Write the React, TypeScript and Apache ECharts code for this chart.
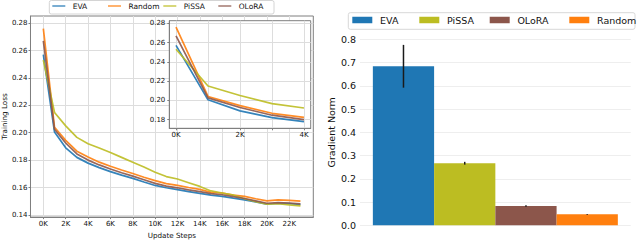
import React, { useEffect, useRef } from "react";
import * as echarts from "echarts";

// ---------- data ----------
const steps = [
  0, 1000, 2000, 3000, 4000, 5000, 6000, 7000, 8000, 9000, 10000, 11000,
  12000, 13000, 14000, 15000, 16000, 17000, 18000, 19000, 20000, 21000, 22000, 23000,
];
const evaLoss = [
  0.257, 0.2005, 0.189, 0.182, 0.1778, 0.1745, 0.1716, 0.169, 0.1667, 0.164, 0.1615, 0.1598,
  0.1585, 0.157, 0.1557, 0.1545, 0.1535, 0.1522, 0.151, 0.1495, 0.1478, 0.1485, 0.1482, 0.1476,
];
const randomLoss = [
  0.276, 0.204, 0.1944, 0.1865, 0.1823, 0.1785, 0.1755, 0.1728, 0.1702, 0.1675, 0.165, 0.1628,
  0.1615, 0.16, 0.1586, 0.1565, 0.156, 0.1545, 0.1535, 0.1518, 0.1502, 0.151, 0.1506, 0.15,
];
const pissaLoss = [
  0.253, 0.2148, 0.205, 0.1966, 0.192, 0.1888, 0.1855, 0.182, 0.1785, 0.175, 0.1712, 0.168,
  0.1662, 0.1635, 0.1608, 0.1575, 0.156, 0.1545, 0.1518, 0.1497, 0.1478, 0.1483, 0.1473, 0.1466,
];
const oloraLoss = [
  0.267, 0.2025, 0.1925, 0.1845, 0.18, 0.1765, 0.1735, 0.1708, 0.1683, 0.1657, 0.163, 0.161,
  0.1598, 0.1583, 0.157, 0.1555, 0.1547, 0.1533, 0.152, 0.1503, 0.1485, 0.149, 0.1487, 0.148,
];
const insetCount = 5; // inset shows 0K..4K

const mainXTicks = [0, 2000, 4000, 6000, 8000, 10000, 12000, 14000, 16000, 18000, 20000, 22000];
const mainYTicks = [0.14, 0.16, 0.18, 0.2, 0.22, 0.24, 0.26, 0.28];
const insetXTicks = [0, 1000, 2000, 3000, 4000];
const insetXLabelTicks = [0, 2000, 4000];
const insetYTicks = [0.18, 0.2, 0.22, 0.24, 0.26, 0.28];

const barMethods = ["EVA", "PiSSA", "OLoRA", "Random"];
const gradNorm = [0.684, 0.267, 0.083, 0.047];
const gradErr = [0.092, 0.006, 0.003, 0.002];

const colors: Record<string, string> = {
  EVA: "#1f77b4",
  Random: "#ff7f0e",
  PiSSA: "#bcbd22",
  OLoRA: "#8c564b",
};

const lineSeries = [
  { name: "EVA", values: evaLoss },
  { name: "Random", values: randomLoss },
  { name: "PiSSA", values: pissaLoss },
  { name: "OLoRA", values: oloraLoss },
];

const FONT = "DejaVu Sans";
const TXT = "#111111";
const FRAME = "#7f7f7f";
const GRIDC = "#dddddd";

export default function App() {
  const ref = useRef<HTMLDivElement>(null);

  useEffect(() => {
    document.body.style.margin = "0";
    if (!ref.current) return;
    const chart = echarts.init(ref.current, undefined, { renderer: "svg" });

    const BAR_GAP = 0.095;

    const mainLegendPos = [52.3, 108, 163.3, 218.3];
    const barLegendPos = [352.3, 419.3, 489.7, 569.3];

    const legends: any[] = [];
    lineSeries.forEach((s, i) => {
      legends.push({
        left: mainLegendPos[i],
        top: 2,
        padding: 0,
        icon: "rect",
        itemWidth: 13,
        itemHeight: 2,
        itemStyle: { opacity: 0.6 },
        selectedMode: false,
        data: [s.name],
        textStyle: { fontFamily: FONT, fontSize: 7.5, color: TXT, padding: [0, 0, 0, 2.4] },
      });
    });
    barMethods.forEach((m, i) => {
      legends.push({
        left: barLegendPos[i],
        top: 15,
        padding: 0,
        icon: "rect",
        itemWidth: 20,
        itemHeight: 6.5,
        selectedMode: false,
        data: [m],
        textStyle: { fontFamily: FONT, fontSize: 9.5, color: TXT, padding: [0, 0, 0, 2.7] },
      });
    });

    const series: any[] = [];
    lineSeries.forEach((s) => {
      series.push({
        type: "line",
        name: s.name,
        xAxisIndex: 0,
        yAxisIndex: 0,
        data: steps.map((x, i) => [x, s.values[i]]),
        showSymbol: false,
        symbol: "none",
        color: colors[s.name],
        lineStyle: { width: 1.7, opacity: 0.9 },
        z: 2,
      });
    });
    lineSeries.forEach((s) => {
      series.push({
        type: "line",
        name: s.name,
        xAxisIndex: 1,
        yAxisIndex: 1,
        data: steps.slice(0, insetCount).map((x, i) => [x, s.values[i]]),
        showSymbol: false,
        symbol: "none",
        color: colors[s.name],
        lineStyle: { width: 1.7, opacity: 0.9 },
        z: 6,
      });
    });
    barMethods.forEach((m, i) => {
      series.push({
        type: "bar",
        name: m,
        xAxisIndex: 2,
        yAxisIndex: 2,
        data: [gradNorm[i]],
        color: colors[m],
        barGap: "0%",
        barCategoryGap: BAR_GAP * 100 + "%",
      });
    });
    series.push({
      type: "custom",
      name: "err",
      xAxisIndex: 2,
      yAxisIndex: 2,
      z: 10,
      encode: { x: 0, y: [1, 2] },
      data: barMethods.map((m, i) => [0, gradNorm[i] - gradErr[i], gradNorm[i] + gradErr[i], i]),
      renderItem: (params: any, api: any) => {
        const idx = api.value(3);
        const lo = api.coord([0, api.value(1)]);
        const hi = api.coord([0, api.value(2)]);
        const band = api.size([1, 0])[0];
        const bw = (band * (1 - BAR_GAP)) / 4;
        const x = lo[0] - 2 * bw + bw * (idx + 0.5);
        return {
          type: "line",
          shape: { x1: x, y1: lo[1], x2: x, y2: hi[1] },
          style: { stroke: "#1a1a1a", lineWidth: 1.5 },
        };
      },
    });

    const option: any = {
      animation: false,
      backgroundColor: "#ffffff",
      textStyle: { fontFamily: FONT },
      legend: legends,
      graphic: [
        {
          type: "rect",
          z: -1,
          shape: { x: 49.3, y: 0.5, width: 224.7, height: 13.5, r: 2 },
          style: { fill: "#fff", stroke: "#d4d4d4", lineWidth: 1 },
        },
        {
          type: "rect",
          z: -1,
          shape: { x: 348.3, y: 12.7, width: 286.7, height: 16.6, r: 2 },
          style: { fill: "#fff", stroke: "#d8d8d8", lineWidth: 1 },
        },
      ],
      grid: [
        {
          left: 30,
          top: 16,
          right: 326.7,
          bottom: 20.7,
          show: true,
          borderColor: FRAME,
          borderWidth: 1,
          backgroundColor: "transparent",
        },
        {
          left: 169.3,
          top: 20.7,
          width: 141.4,
          height: 107.6,
          show: true,
          backgroundColor: "#ffffff",
          borderColor: FRAME,
          borderWidth: 1,
          z: 3,
        },
        { left: 360, top: 39.3, right: 9.3, bottom: 18.7 },
      ],
      xAxis: [
        {
          gridIndex: 0,
          type: "value",
          min: -1150,
          max: 24150,
          axisLine: { show: true, onZero: false, lineStyle: { color: FRAME } },
          axisTick: { show: true, length: 2, lineStyle: { color: FRAME }, customValues: mainXTicks },
          axisLabel: {
            customValues: mainXTicks,
            formatter: (v: number) => v / 1000 + "K",
            fontSize: 7,
            color: TXT,
            margin: 3,
            fontFamily: FONT,
          },
          splitLine: { show: true, lineStyle: { color: GRIDC, width: 1 } },
          name: "Update Steps",
          nameLocation: "middle",
          nameGap: 11.5,
          nameTextStyle: { fontSize: 7.2, color: TXT, fontFamily: FONT },
        },
        {
          gridIndex: 1,
          type: "value",
          min: -210,
          max: 4210,
          z: 4,
          axisLine: { show: true, onZero: false, lineStyle: { color: FRAME } },
          axisTick: { show: true, length: 2, lineStyle: { color: FRAME }, customValues: insetXTicks },
          axisLabel: {
            customValues: insetXLabelTicks,
            formatter: (v: number) => v / 1000 + "K",
            fontSize: 7,
            color: TXT,
            margin: 3,
            fontFamily: FONT,
          },
          splitLine: { show: true, lineStyle: { color: GRIDC, width: 1 } },
        },
        {
          gridIndex: 2,
          type: "category",
          data: ["Gradient Norm"],
          show: false,
        },
      ],
      yAxis: [
        {
          gridIndex: 0,
          type: "value",
          min: 0.1384,
          max: 0.2852,
          axisLine: { show: true, onZero: false, lineStyle: { color: FRAME } },
          axisTick: { show: true, length: 2, lineStyle: { color: FRAME }, customValues: mainYTicks },
          axisLabel: {
            customValues: mainYTicks,
            formatter: (v: number) => v.toFixed(2),
            fontSize: 7,
            color: TXT,
            margin: 3,
            fontFamily: FONT,
          },
          splitLine: { show: true, lineStyle: { color: GRIDC, width: 1 } },
          name: "Training Loss",
          nameLocation: "middle",
          nameGap: 21,
          nameTextStyle: { fontSize: 7.2, color: TXT, fontFamily: FONT },
        },
        {
          gridIndex: 1,
          type: "value",
          min: 0.1709,
          max: 0.2827,
          z: 4,
          axisLine: { show: true, onZero: false, lineStyle: { color: FRAME } },
          axisTick: { show: true, length: 2, lineStyle: { color: FRAME }, customValues: insetYTicks },
          axisLabel: {
            customValues: insetYTicks,
            formatter: (v: number) => v.toFixed(2),
            fontSize: 7,
            color: TXT,
            margin: 4,
            fontFamily: FONT,
          },
          splitLine: { show: true, lineStyle: { color: GRIDC, width: 1 } },
        },
        {
          gridIndex: 2,
          type: "value",
          min: 0,
          max: 0.8,
          interval: 0.1,
          axisLine: { show: false },
          axisTick: { show: false },
          axisLabel: {
            formatter: (v: number) => v.toFixed(1),
            fontSize: 9.5,
            color: TXT,
            margin: 4,
            fontFamily: FONT,
          },
          splitLine: { show: true, lineStyle: { color: "#eeeeee", width: 1 } },
          name: "Gradient Norm",
          nameLocation: "middle",
          nameGap: 21,
          nameTextStyle: { fontSize: 9.5, color: TXT, fontFamily: FONT },
        },
      ],
      series,
    };

    chart.setOption(option);
    return () => chart.dispose();
  }, []);

  return <div ref={ref} style={{ width: 640, height: 244 }} />;
}
